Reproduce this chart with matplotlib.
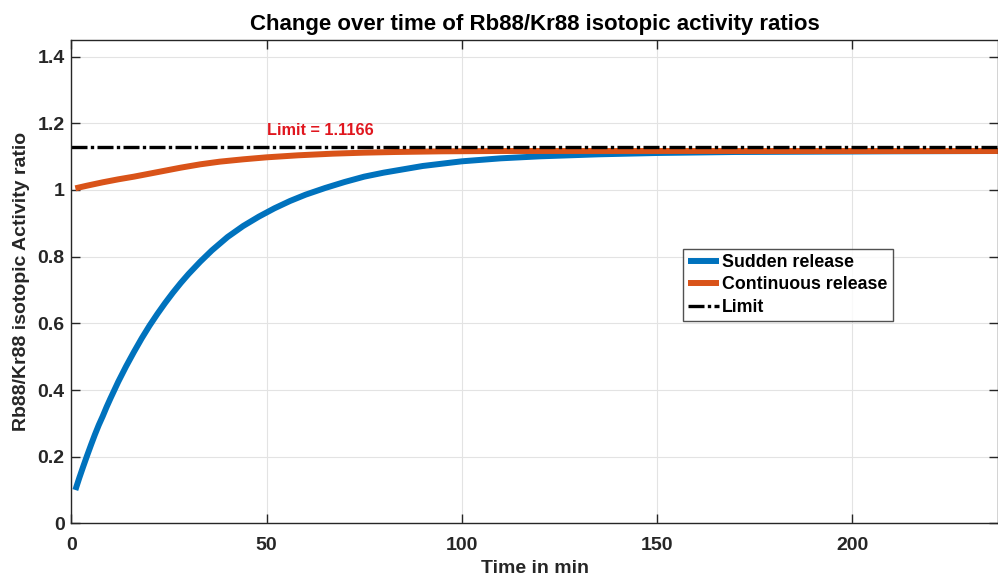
import matplotlib
matplotlib.use("Agg")
import matplotlib.pyplot as plt
from matplotlib.ticker import FuncFormatter

plt.rcParams['font.family'] = ['Liberation Sans', 'DejaVu Sans']
plt.rcParams['font.weight'] = 'bold'

# values
sudden_t = [1, 2, 3, 4, 5, 6, 7, 8, 9, 10, 12, 14, 16, 18, 20, 22, 24, 26, 28, 30,
            33, 36, 40, 44, 48, 52, 56, 60, 65, 70, 75, 80, 90, 100, 110, 120,
            135, 150, 170, 190, 210, 240]
sudden_v = [0.100, 0.136, 0.170, 0.203, 0.235, 0.266, 0.295, 0.321, 0.349, 0.375,
            0.425, 0.471, 0.514, 0.555, 0.593, 0.628, 0.661, 0.692, 0.721, 0.748,
            0.785, 0.819, 0.859, 0.892, 0.920, 0.945, 0.967, 0.986, 1.006, 1.024,
            1.040, 1.052, 1.072, 1.086, 1.095, 1.101, 1.107, 1.111, 1.114, 1.115,
            1.116, 1.117]

cont_t = [1, 4, 8, 12, 16, 20, 24, 28, 33, 38, 44, 50, 58, 67, 75, 83, 95, 110, 240]
cont_v = [1.005, 1.013, 1.023, 1.032, 1.040, 1.049, 1.058, 1.067, 1.077, 1.085,
          1.092, 1.098, 1.104, 1.109, 1.112, 1.114, 1.116, 1.117, 1.117]

limit_value = 1.1166
limit_line_y = 1.128

blue = '#0072BD'
orange = '#D95319'
axcol = '#262626'

fig = plt.figure(figsize=(9.98, 5.77), dpi=100)
ax = fig.add_axes([0.0716, 0.093, 0.9284, 0.8377])

ax.plot(sudden_t, sudden_v, color=blue, lw=4.3, solid_capstyle='butt', label='Sudden release')
ax.plot(cont_t, cont_v, color=orange, lw=4.3, solid_capstyle='butt', label='Continuous release')
ax.axhline(limit_line_y, color='black', lw=2.4, dashes=(4.8, 1, 1, 1), label='Limit')

ax.text(50, 1.179, 'Limit = %.4f' % limit_value, color='#E0161E', fontsize=11.7,
        fontweight='bold', ha='left', va='center')

ax.set_xlim(0, 237.4)
ax.set_ylim(0, 1.45)
ax.set_xticks([0, 50, 100, 150, 200])
ax.set_yticks([0, 0.2, 0.4, 0.6, 0.8, 1.0, 1.2, 1.4])
ax.yaxis.set_major_formatter(FuncFormatter(lambda v, p: '%g' % round(v, 2)))

ax.grid(True, color='#e3e3e3', lw=0.8)
ax.set_axisbelow(True)
for s in ax.spines.values():
    s.set_color(axcol)
    s.set_linewidth(1.0)
ax.tick_params(direction='in', length=6.5, width=1.0, color=axcol, labelcolor=axcol,
               labelsize=14, top=True, right=True)
ax.tick_params(axis='x', pad=10)
ax.tick_params(axis='y', pad=5)
for lab in ax.get_xticklabels() + ax.get_yticklabels():
    lab.set_fontweight('bold')

ax.set_title('Change over time of Rb88/Kr88 isotopic activity ratios', fontsize=16,
             fontweight='bold', color='black', pad=7)
ax.set_xlabel('Time in min', fontsize=14, fontweight='bold', color=axcol, labelpad=4)
ax.set_ylabel('Rb88/Kr88 isotopic Activity ratio', fontsize=14, fontweight='bold',
              color=axcol, labelpad=5)

leg = ax.legend(loc='upper left', bbox_to_anchor=(0.66, 0.568), frameon=True,
                fancybox=False, handlelength=1.75, handletextpad=0.15, borderaxespad=0,
                borderpad=0.3, labelspacing=0.3, prop={'weight': 'bold', 'size': 12.8})
leg.get_frame().set_edgecolor(axcol)
leg.get_frame().set_linewidth(1.0)

fig.savefig('out.png', dpi=100)
